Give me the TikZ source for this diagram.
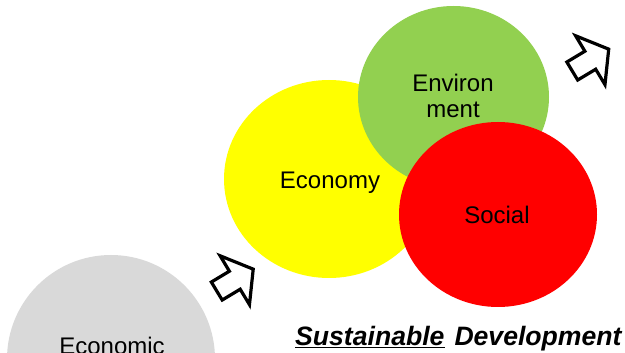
\documentclass[tikz,border=0pt]{standalone}
\usepackage{fontspec}
\setmainfont{Liberation Sans}
\usetikzlibrary{shapes.geometric}
\begin{document}
\begin{tikzpicture}[x=1pt,y=1pt,
  blob/.style={ellipse,inner sep=0pt,draw=none},
  lbl/.style={anchor=base,inner sep=0pt,font=\fontsize{24}{26.4}\selectfont,align=center},
  hollowarrow/.style={draw=black,fill=white,line width=3.2pt,line join=miter}]
\useasboundingbox (0,0) rectangle (625,353);
\clip (0,0) rectangle (625,353);
% circles
\node[blob,fill={rgb,255:red,217;green,217;blue,217},minimum width=208pt,minimum height=208pt] (eco) at (111,-6) {};
\node[blob,fill={rgb,255:red,255;green,255;blue,0},minimum width=210pt,minimum height=198pt] (economy) at (329,174) {};
\node[blob,fill={rgb,255:red,146;green,208;blue,80},minimum width=191pt,minimum height=182pt] (env) at (453.5,256) {};
\node[blob,fill={rgb,255:red,255;green,0;blue,0},minimum width=198pt,minimum height=185pt] (soc) at (498,138.5) {};
% labels
\node[lbl] (ecot) at (112,-2) {Economic};
\node[lbl] (economyt) at (330,164) {Economy};
\node[lbl] (envt1) at (453,261) {Environ};
\node[lbl] (envt2) at (453,235) {ment};
\node[lbl] (soct) at (497,129) {Social};
% hollow arrows
\foreach \name/\px/\py in {arrA/233.5/72, arrB/589/292}{
  \draw[hollowarrow,shift={(\px,\py)},rotate=31]
    (23,0) -- (1.5,28.5) -- (1.5,10.5) -- (-19.5,10.5) -- (-19.5,-10.5)
    -- (1.5,-10.5) -- (1.5,-28.5) -- cycle;
}
% title
\node[anchor=base west,inner sep=0pt,font=\fontsize{26.6}{29}\selectfont\bfseries\itshape] (title) at (295,7.5)
  {\underline{Sustainable}\hspace{10pt}Development};
\end{tikzpicture}
\end{document}
